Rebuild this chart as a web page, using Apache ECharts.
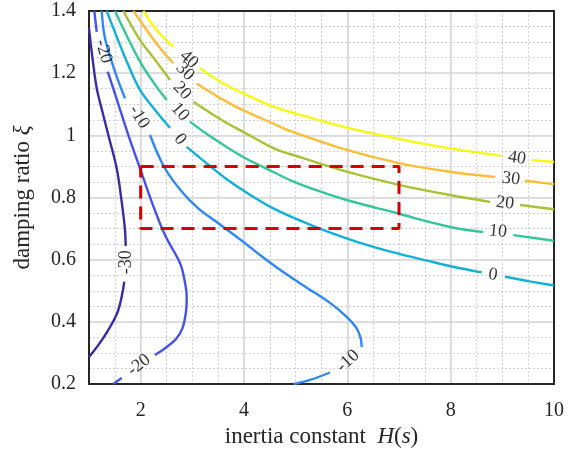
<!DOCTYPE html>
<html>
<head>
<meta charset="utf-8">
<script src="https://cdn.jsdelivr.net/npm/echarts@6/dist/echarts.min.js"></script>
<style>
  html, body { margin: 0; padding: 0; background: #fff; }
  #chart { width: 579px; height: 455px; }
</style>
</head>
<body>
<div id="chart"></div>
<script>
// Contour levels of the frequency-response map over (H, xi)
const levels = [-30, -20, -10, 0, 10, 20, 30, 40];

// Each contour is a list of [H, xi] points; null leaves a gap for its inline label
const contourM30 = [[1.0, 1.345], [1.052, 1.269], [1.149, 1.152], [1.261, 1.075], [1.374, 1.001],
  [1.536, 0.894], [1.633, 0.786], [1.697, 0.695], [1.710, 0.644], null,
  [1.683, 0.529], [1.567, 0.438], [1.374, 0.374], [1.180, 0.325], [1.0, 0.287]];
const contourM20 = [[1.103, 1.4], [1.149, 1.333], null,
  [1.362, 1.205], [1.561, 1.104], [1.761, 1.001], [1.987, 0.894], [2.214, 0.786], [2.471, 0.679],
  [2.761, 0.589], [2.848, 0.535], [2.891, 0.480], [2.877, 0.432], [2.810, 0.380], [2.684, 0.345],
  [2.471, 0.315], [2.277, 0.293], null, [1.633, 0.219], [1.470, 0.2]];
const contourM10 = [[1.246, 1.4], [1.310, 1.312], [1.503, 1.205], [1.697, 1.119], null,
  [2.181, 1.001], [2.452, 0.899], [2.794, 0.819], [3.115, 0.765], [3.502, 0.717], [4.019, 0.653],
  [4.309, 0.615], [4.760, 0.560], [5.213, 0.510], [5.664, 0.461], [5.987, 0.416], [6.181, 0.379],
  [6.258, 0.347], [6.278, 0.319], null, [5.664, 0.237], [5.277, 0.213], [4.962, 0.2]];
const contour0 = [[1.343, 1.4], [1.523, 1.323], [1.735, 1.236], [1.987, 1.146], [2.310, 1.075],
  [2.568, 1.024], null, [2.891, 0.963], [3.278, 0.910], [3.632, 0.863], [4.019, 0.819],
  [4.567, 0.765], [5.213, 0.717], [5.858, 0.676], [6.502, 0.641], [7.019, 0.618], [7.567, 0.596],
  [8.020, 0.578], [8.600, 0.559], null, [9.051, 0.545], [9.502, 0.531], [10.0, 0.517]];
const contour10 = [[1.503, 1.4], [1.987, 1.237], [2.310, 1.156], [2.504, 1.114], null,
  [2.955, 1.044], [3.245, 1.008], [3.632, 0.966], [4.019, 0.927], [4.567, 0.882], [4.890, 0.856],
  [5.341, 0.827], [5.987, 0.792], [7.019, 0.747], [7.567, 0.722], [8.083, 0.702], [8.631, 0.689],
  null, [9.212, 0.679], [10.0, 0.661]];
const contour20 = [[1.664, 1.4], [1.987, 1.307], [2.310, 1.236], [2.568, 1.178], null,
  [3.019, 1.108], [3.599, 1.046], [4.019, 1.008], [4.567, 0.959], [4.890, 0.940], [5.987, 0.883],
  [7.019, 0.840], [7.987, 0.808], [8.761, 0.786], null, [9.341, 0.776], [10.0, 0.762]];
const contour30 = [[1.857, 1.4], [2.117, 1.339], [2.374, 1.281], [2.632, 1.232], null,
  [3.084, 1.167], [3.599, 1.114], [4.019, 1.078], [4.567, 1.038], [4.890, 1.014], [5.987, 0.953],
  [7.019, 0.910], [7.987, 0.883], [8.858, 0.866], null, [9.438, 0.854], [10.0, 0.843]];
const contour40 = [[2.051, 1.4], [2.310, 1.339], [2.632, 1.285], null,
  [3.148, 1.216], [3.599, 1.167], [3.922, 1.140], [4.567, 1.092], [5.213, 1.060], [5.987, 1.025],
  [7.019, 0.988], [7.987, 0.958], [8.987, 0.934], null, [9.568, 0.921], [10.0, 0.914]];

// Inline contour labels: anchor [H, xi] and the level each one names
const labelPoints = [[1.716, 0.592], [1.281, 1.270], [1.968, 0.261], [1.968, 1.059], [6.013, 0.274],
  [2.761, 0.987], [8.819, 0.551], [2.761, 1.075], [8.915, 0.691], [2.800, 1.143], [9.051, 0.782],
  [2.858, 1.205], [9.167, 0.860], [2.935, 1.244], [9.283, 0.927]];
const labelLevels = [-30, -20, -20, -10, -10, 0, 0, 10, 10, 20, 20, 30, 30, 40, 40];

// Operating region marked by the dashed rectangle
const boxH = [2, 7];
const boxXi = [0.7, 0.9];

// Axis tick values
const xTicks = [2, 4, 6, 8, 10];

const levelColors = ['#3b2aa2', '#4352ea', '#2d87f5', '#12b0d8', '#33c698', '#a8c234', '#fdbd38', '#f7f812'];
const labelAngles = [90, -74, 38, -58, 42, -50, -9, -48, -6, -47, -7, -45, -7, -42, -8];
const serif = '"Liberation Serif", "Times New Roman", serif';

const contours = [contourM30, contourM20, contourM10, contour0, contour10, contour20, contour30, contour40];

const series = contours.map((pts, i) => ({
  name: String(levels[i]),
  type: 'line',
  xAxisIndex: 0,
  yAxisIndex: 0,
  symbol: 'none',
  smooth: 0.35,
  connectNulls: false,
  data: pts.map(p => (p ? p : ['-', '-'])),
  lineStyle: { color: levelColors[i], width: 2.4 },
  z: 3,
  silent: true
}));

series.push({
  type: 'line',
  xAxisIndex: 0,
  yAxisIndex: 0,
  symbol: 'none',
  data: [[boxH[0], boxXi[1]], [boxH[1], boxXi[1]], [boxH[1], boxXi[0]], [boxH[0], boxXi[0]], [boxH[0], boxXi[1]]],
  lineStyle: { color: '#d40000', width: 3, type: [13, 8] },
  z: 5,
  silent: true
});

series.push({
  type: 'scatter',
  xAxisIndex: 0,
  yAxisIndex: 0,
  symbolSize: 0,
  silent: true,
  z: 6,
  data: labelPoints.map((p, i) => ({
    value: p,
    label: { rotate: labelAngles[i], formatter: String(labelLevels[i]) }
  })),
  label: {
    show: true,
    position: 'inside',
    align: 'center',
    verticalAlign: 'middle',
    fontFamily: serif,
    fontSize: 18,
    color: '#000'
  }
});

const chart = echarts.init(document.getElementById('chart'), null, { renderer: 'canvas' });
chart.setOption({
  animation: false,
  backgroundColor: '#fff',
  grid: {
    left: 89, top: 11, right: 25, bottom: 71,
    show: true, borderColor: '#262626', borderWidth: 2,
    backgroundColor: 'transparent', z: 2
  },
  xAxis: [
    {
      type: 'value', min: 1, max: 10, z: 1,
      axisLine: { show: false },
      axisTick: { show: false, customValues: xTicks },
      axisLabel: { customValues: xTicks, fontFamily: serif, fontSize: 20, color: '#262626', margin: 17 },
      splitLine: { show: true, lineStyle: { color: '#d6d6d6', width: 1.6 } },
      name: 'inertia constant  {it|H}({it|s})',
      nameLocation: 'middle',
      nameGap: 41,
      nameTextStyle: {
        fontFamily: serif, fontSize: 23, color: '#262626',
        rich: { it: { fontFamily: serif, fontSize: 23, fontStyle: 'italic', color: '#262626' } }
      }
    },
    {
      type: 'value', min: 1, max: 10, interval: 0.5, z: 0,
      axisLine: { show: false }, axisTick: { show: false }, axisLabel: { show: false },
      splitLine: { show: true, lineStyle: { color: '#d2d2d2', width: 1, type: [2, 2] } }
    }
  ],
  yAxis: [
    {
      type: 'value', min: 0.2, max: 1.4, interval: 0.2, z: 1,
      axisLine: { show: false },
      axisTick: { show: false },
      axisLabel: { fontFamily: serif, fontSize: 20, color: '#262626', margin: 13 },
      splitLine: { show: true, lineStyle: { color: '#d6d6d6', width: 1.6 } },
      name: 'damping ratio {it|ξ}',
      nameLocation: 'middle',
      nameGap: 55,
      nameTextStyle: {
        fontFamily: serif, fontSize: 23, color: '#262626',
        rich: { it: { fontFamily: serif, fontSize: 23, fontStyle: 'italic', color: '#262626' } }
      }
    },
    {
      type: 'value', min: 0.2, max: 1.4, interval: 0.05, z: 0,
      axisLine: { show: false }, axisTick: { show: false }, axisLabel: { show: false },
      splitLine: { show: true, lineStyle: { color: '#d2d2d2', width: 1, type: [2, 2] } }
    }
  ],
  series: series
});
</script>
</body>
</html>
